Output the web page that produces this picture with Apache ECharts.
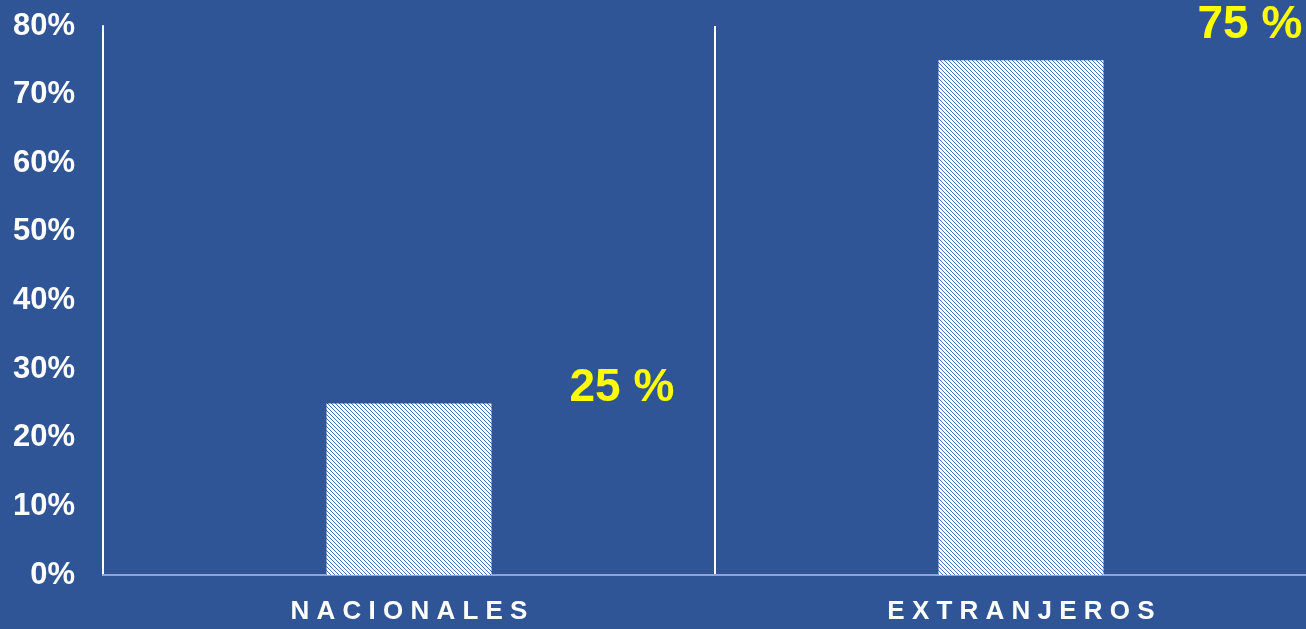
<!DOCTYPE html>
<html>
<head>
<meta charset="utf-8">
<script src="https://cdn.jsdelivr.net/npm/echarts@6/dist/echarts.min.js"></script>
<style>
  html, body { margin: 0; padding: 0; background: #2f5597; }
  #chart { width: 1306px; height: 629px; }
</style>
</head>
<body>
<div id="chart"></div>
<script>
// datos
const categories = ['NACIONALES', 'EXTRANJEROS'];
const values = [25, 75];
const valueLabels = ['25 %', '75 %'];

// patrón rayado para las barras
const hatch = document.createElement('canvas');
hatch.width = 4;
hatch.height = 4;
const ctx = hatch.getContext('2d');
ctx.fillStyle = '#ffffff';
ctx.fillRect(0, 0, 4, 4);
ctx.fillStyle = '#4472c4';
for (let i = 0; i < 4; i++) {
    ctx.fillRect(i, i, 1, 1);
}

const labelOffsets = [[243, -15], [259, -35]]; // posición de las etiquetas amarillas

const chart = echarts.init(document.getElementById('chart'));

const option = {
    backgroundColor: '#2f5597',
    animation: false,
    grid: { left: 103, top: 26, bottom: 54, right: -21, outerBoundsMode: 'none', containLabel: false },
    xAxis: {
        type: 'category',
        data: categories,
        axisLine: { lineStyle: { color: '#8ea6d6', width: 2 } },
        axisTick: { show: false },
        splitLine: { show: true, lineStyle: { color: '#ffffff', width: 2 } },
        axisLabel: {
            color: '#ffffff',
            fontFamily: 'Liberation Sans',
            fontWeight: 'bold',
            fontSize: 26,
            margin: 24,
            formatter: v => v.split('').join(' ')
        }
    },
    yAxis: {
        type: 'value',
        min: 0,
        max: 80,
        interval: 10,
        axisLine: { show: true, lineStyle: { color: '#ffffff', width: 2 } },
        axisTick: { show: false },
        splitLine: { show: false },
        axisLabel: {
            color: '#ffffff',
            fontFamily: 'Liberation Sans',
            fontWeight: 'bold',
            fontSize: 31,
            margin: 28,
            padding: [6, 0, 0, 0],
            formatter: '{value}%'
        }
    },
    series: [{
        type: 'bar',
        barWidth: 165,
        data: values.map((v, i) => ({
            value: v,
            label: {
                show: true,
                position: labelOffsets[i],
                align: 'left',
                verticalAlign: 'middle',
                formatter: valueLabels[i],
                color: '#ffff00',
                fontFamily: 'Liberation Sans',
                fontWeight: 'bold',
                fontSize: 46
            }
        })),
        itemStyle: { color: { image: hatch, repeat: 'repeat' } }
    }]
};

chart.setOption(option);
</script>
</body>
</html>
